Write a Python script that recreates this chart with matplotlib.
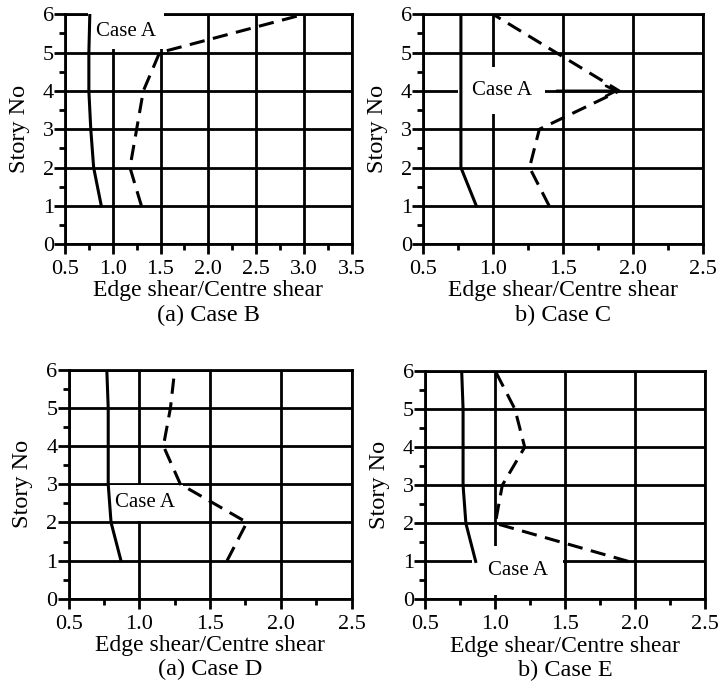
import matplotlib
matplotlib.use('Agg')
import matplotlib.pyplot as plt
from matplotlib.ticker import MultipleLocator

plt.rcParams['font.family'] = ['Liberation Serif', 'DejaVu Serif']

story = [1, 2, 3, 4, 5, 6]

# Case A (solid) and the compared case (dashed), edge shear / centre shear
caseA_B = [0.88, 0.80, 0.77, 0.75, 0.75, 0.76]
caseB = [1.30, 1.18, 1.25, 1.32, 1.49, 3.00]

caseA_C = [0.88, 0.77, 0.77, 0.77, 0.77, 0.77]
caseC = [1.40, 1.26, 1.33, 1.90, 1.45, 1.00]

caseA_D = [0.87, 0.80, 0.78, 0.78, 0.78, 0.77]
caseD = [1.62, 1.76, 1.29, 1.17, 1.22, 1.25]

caseA_E = [0.86, 0.79, 0.77, 0.77, 0.77, 0.76]
caseE = [1.95, 1.00, 1.05, 1.21, 1.14, 1.00]

xticks_B = [0.5, 1.0, 1.5, 2.0, 2.5, 3.0, 3.5]
xticks = [0.5, 1.0, 1.5, 2.0, 2.5]
titles = ['(a) Case B', 'b) Case C', '(a) Case D', 'b) Case E']

fig = plt.figure(figsize=(7.22, 6.82), dpi=100)

rects = [[0.090, 0.642, 0.397, 0.337],
         [0.586, 0.642, 0.388, 0.337],
         [0.095, 0.122, 0.392, 0.336],
         [0.589, 0.121, 0.388, 0.335]]

data = [(caseA_B, caseB, xticks_B), (caseA_C, caseC, xticks),
        (caseA_D, caseD, xticks), (caseA_E, caseE, xticks)]

axes = []
for r, (a, b, xt), t in zip(rects, data, titles):
    ax = fig.add_axes(r)
    ax.plot(a, story, color='black', lw=2.2, zorder=5)
    ax.plot(b, story, color='black', lw=2.2, dashes=(5, 2.8), zorder=5)
    ax.set_xlim(xt[0], xt[-1])
    ax.set_ylim(0, 6)
    ax.set_xticks(xt)
    ax.set_xticklabels(['%.1f' % v for v in xt])
    ax.set_yticks(range(7))
    ax.xaxis.set_minor_locator(MultipleLocator(0.25))
    ax.yaxis.set_minor_locator(MultipleLocator(0.5))
    ax.grid(True, which='major', color='black', lw=2.0, zorder=1)
    ax.set_axisbelow(True)
    for s in ax.spines.values():
        s.set_linewidth(2.0)
    ax.tick_params(which='major', direction='out', length=7.5, width=2, labelsize=16, pad=4)
    ax.tick_params(axis='y', which='major', length=8, pad=0)
    ax.tick_params(which='minor', direction='out', length=4, width=2)
    # axis titles placed by offset from the axes edge
    ax.annotate('Story No', xy=(0, 0.5), xycoords='axes fraction', xytext=(-33, 0),
                textcoords='offset points', rotation=90, ha='center', va='center', fontsize=17.5)
    ax.annotate('Edge shear/Centre shear', xy=(0.5, 0), xycoords='axes fraction', xytext=(0, -33.5),
                textcoords='offset points', ha='center', va='center', fontsize=17)
    ax.annotate(t, xy=(0.5, 0), xycoords='axes fraction', xytext=(0, -51),
                textcoords='offset points', ha='center', va='center', fontsize=17.5,
                annotation_clip=False)
    axes.append(ax)

box = dict(facecolor='white', edgecolor='none', pad=6)
axes[0].text(1.14, 5.56, 'Case A', fontsize=15, ha='center', va='center', bbox=box, zorder=3)
axes[1].annotate('Case A', xy=(1.9, 4), xytext=(1.06, 4), fontsize=15, ha='center', va='center',
                 bbox=dict(facecolor='white', edgecolor='none', pad=10), zorder=3,
                 arrowprops=dict(arrowstyle='->', color='black', lw=2, mutation_scale=18,
                                 shrinkA=8, shrinkB=0))
axes[2].text(1.04, 2.51, 'Case A', fontsize=15, ha='center', va='center', bbox=box, zorder=3)
axes[3].text(1.16, 0.76, 'Case A', fontsize=15, ha='center', va='center',
             bbox=dict(facecolor='white', edgecolor='none', pad=11), zorder=3)

fig.savefig('out.png', dpi=100)
